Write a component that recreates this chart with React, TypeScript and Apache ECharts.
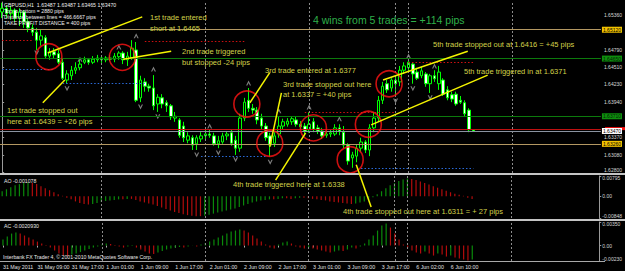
import React, { useEffect, useRef } from 'react';
import * as echarts from 'echarts';

// ---------- data ----------
const tickLabels = ['31 May 2011', '31 May 09:00', '31 May 17:00', '1 Jun 01:00', '1 Jun 09:00', '1 Jun 17:00', '2 Jun 01:00', '2 Jun 09:00', '2 Jun 17:00', '3 Jun 01:00', '3 Jun 09:00', '3 Jun 17:00', '6 Jun 02:00', '6 Jun 10:00'];
const barSlots = 139; // H1 bar slots visible in the window (incl. empty space on the right)

// [open, close, low, high]
const ohlc: number[][] = [
  [1.6541, 1.6547, 1.6531, 1.6556], [1.6547, 1.6538, 1.6531, 1.6552], [1.6538, 1.6544, 1.6528, 1.6551], [1.6544, 1.6531, 1.6525, 1.6547],
  [1.6531, 1.6541, 1.6518, 1.6547], [1.6541, 1.6525, 1.6515, 1.6544], [1.6525, 1.6515, 1.6508, 1.6531], [1.6515, 1.6508, 1.6502, 1.6521],
  [1.6508, 1.6495, 1.6479, 1.6515], [1.6495, 1.6502, 1.6486, 1.6512], [1.6499, 1.6469, 1.6466, 1.6503], [1.6469, 1.6476, 1.6463, 1.6482],
  [1.6476, 1.6471, 1.6466, 1.6482], [1.6473, 1.6459, 1.6456, 1.6479], [1.6459, 1.6433, 1.6430, 1.6466], [1.6430, 1.6440, 1.6424, 1.6446],
  [1.6437, 1.6446, 1.6430, 1.6453], [1.6446, 1.6450, 1.6440, 1.6459], [1.6450, 1.6456, 1.6446, 1.6463], [1.6459, 1.6463, 1.6456, 1.6468],
  [1.6463, 1.6459, 1.6455, 1.6466], [1.6459, 1.6464, 1.6456, 1.6469], [1.6463, 1.6466, 1.6459, 1.6471], [1.6466, 1.6463, 1.6458, 1.6469],
  [1.6463, 1.6466, 1.6459, 1.6469], [1.6466, 1.6464, 1.6461, 1.6471], [1.6464, 1.6469, 1.6459, 1.6474], [1.6468, 1.6474, 1.6463, 1.6477],
  [1.6474, 1.6463, 1.6456, 1.6477], [1.6463, 1.6469, 1.6453, 1.6476], [1.6466, 1.6482, 1.6463, 1.6495], [1.6479, 1.6397, 1.6394, 1.6492],
  [1.6401, 1.6430, 1.6394, 1.6437], [1.6427, 1.6420, 1.6411, 1.6433], [1.6420, 1.6417, 1.6411, 1.6424], [1.6417, 1.6388, 1.6381, 1.6438],
  [1.6391, 1.6402, 1.6378, 1.6407], [1.6401, 1.6391, 1.6384, 1.6407], [1.6393, 1.6388, 1.6378, 1.6397], [1.6388, 1.6370, 1.6365, 1.6391],
  [1.6368, 1.6371, 1.6362, 1.6378], [1.6365, 1.6340, 1.6336, 1.6368], [1.6355, 1.6336, 1.6329, 1.6362], [1.6332, 1.6339, 1.6327, 1.6345],
  [1.6336, 1.6324, 1.6316, 1.6340], [1.6326, 1.6336, 1.6316, 1.6340], [1.6334, 1.6339, 1.6329, 1.6345], [1.6339, 1.6342, 1.6332, 1.6349],
  [1.6342, 1.6340, 1.6336, 1.6349], [1.6339, 1.6326, 1.6323, 1.6344], [1.6326, 1.6331, 1.6319, 1.6339], [1.6329, 1.6339, 1.6326, 1.6344],
  [1.6339, 1.6342, 1.6332, 1.6347], [1.6344, 1.6327, 1.6323, 1.6349], [1.6332, 1.6319, 1.6308, 1.6339], [1.6319, 1.6368, 1.6313, 1.6375],
  [1.6368, 1.6394, 1.6363, 1.6401], [1.6397, 1.6384, 1.6378, 1.6417], [1.6384, 1.6381, 1.6375, 1.6391], [1.6381, 1.6365, 1.6358, 1.6386],
  [1.6368, 1.6355, 1.6349, 1.6375], [1.6355, 1.6336, 1.6331, 1.6360], [1.6339, 1.6324, 1.6305, 1.6344], [1.6327, 1.6339, 1.6321, 1.6345],
  [1.6342, 1.6355, 1.6336, 1.6371], [1.6355, 1.6362, 1.6349, 1.6367], [1.6358, 1.6363, 1.6354, 1.6368], [1.6362, 1.6367, 1.6357, 1.6371],
  [1.6365, 1.6358, 1.6354, 1.6370], [1.6358, 1.6354, 1.6349, 1.6363], [1.6355, 1.6347, 1.6342, 1.6360], [1.6349, 1.6358, 1.6344, 1.6378],
  [1.6362, 1.6350, 1.6345, 1.6368], [1.6352, 1.6347, 1.6342, 1.6357], [1.6347, 1.6339, 1.6334, 1.6352], [1.6340, 1.6342, 1.6336, 1.6347],
  [1.6342, 1.6344, 1.6337, 1.6350], [1.6342, 1.6352, 1.6339, 1.6358], [1.6352, 1.6347, 1.6340, 1.6358], [1.6345, 1.6324, 1.6319, 1.6355],
  [1.6324, 1.6298, 1.6292, 1.6327], [1.6303, 1.6308, 1.6287, 1.6313], [1.6306, 1.6319, 1.6296, 1.6324], [1.6319, 1.6329, 1.6313, 1.6336],
  [1.6329, 1.6316, 1.6311, 1.6332], [1.6316, 1.6352, 1.6306, 1.6358], [1.6352, 1.6368, 1.6345, 1.6378], [1.6368, 1.6397, 1.6362, 1.6404],
  [1.6397, 1.6420, 1.6391, 1.6427], [1.6424, 1.6414, 1.6409, 1.6430], [1.6417, 1.6430, 1.6411, 1.6433], [1.6430, 1.6424, 1.6404, 1.6437],
  [1.6427, 1.6446, 1.6420, 1.6453], [1.6446, 1.6453, 1.6440, 1.6459], [1.6450, 1.6459, 1.6443, 1.6463], [1.6456, 1.6440, 1.6424, 1.6459],
  [1.6443, 1.6433, 1.6430, 1.6450], [1.6437, 1.6445, 1.6433, 1.6451], [1.6440, 1.6424, 1.6419, 1.6443], [1.6424, 1.6437, 1.6409, 1.6440],
  [1.6437, 1.6432, 1.6427, 1.6446], [1.6424, 1.6443, 1.6414, 1.6453], [1.6430, 1.6407, 1.6404, 1.6433], [1.6414, 1.6401, 1.6397, 1.6420],
  [1.6406, 1.6399, 1.6394, 1.6411], [1.6407, 1.6391, 1.6388, 1.6411], [1.6397, 1.6394, 1.6391, 1.6404], [1.6393, 1.6375, 1.6371, 1.6397],
  [1.6381, 1.6349, 1.6345, 1.6384], [1.63487, 1.63470, 1.63465, 1.63487],
];

const aoValues = [
  0.00199, 0.00279, 0.00358, 0.00438, 0.00478, 0.00517, 0.00537, 0.00517, 0.00478, 0.00398,
  0.00318, 0.00239, 0.00159, 0.00080, 0.00020, -0.00060, -0.00119, -0.00199, -0.00259, -0.00299,
  -0.00318, -0.00299, -0.00259, -0.00219, -0.00179, -0.00159, -0.00139, -0.00119, -0.00119, -0.00100,
  -0.00100, -0.00139, -0.00199, -0.00239, -0.00279, -0.00318, -0.00378, -0.00438, -0.00498, -0.00557,
  -0.00617, -0.00657, -0.00697, -0.00736, -0.00756, -0.00776, -0.00776, -0.00756, -0.00716, -0.00677,
  -0.00637, -0.00597, -0.00557, -0.00517, -0.00478, -0.00418, -0.00358, -0.00299, -0.00239, -0.00199,
  -0.00159, -0.00139, -0.00119, -0.00119, -0.00100, -0.00080, -0.00080, -0.00100, -0.00080, -0.00060,
  -0.00060, -0.00080, -0.00100, -0.00119, -0.00139, -0.00159, -0.00199, -0.00219, -0.00239, -0.00259,
  -0.00279, -0.00299, -0.00279, -0.00239, -0.00199, -0.00139, -0.00040, 0.00080, 0.00199, 0.00318,
  0.00438, 0.00517, 0.00597, 0.00657, 0.00697, 0.00677, 0.00637, 0.00577, 0.00517, 0.00458,
  0.00398, 0.00338, 0.00279, 0.00219, 0.00159, 0.00100, 0.00060, 0.00020, -0.00060, -0.00108,
];

const acValues = [
  0.00089, 0.00134, 0.00178, 0.00193, 0.00178, 0.00149, 0.00119, 0.00089, 0.00059, 0.00030,
  0.00007, -0.00030, -0.00074, -0.00119, -0.00149, -0.00156, -0.00134, -0.00119, -0.00097, -0.00074,
  -0.00052, -0.00030, -0.00015, 0.00015, 0.00030, 0.00022, 0.00007, -0.00015, -0.00030, -0.00015,
  0.00007, -0.00030, -0.00059, -0.00089, -0.00119, -0.00126, -0.00104, -0.00082, -0.00059, -0.00045,
  -0.00030, -0.00022, -0.00030, -0.00015, 0.00002, -0.00015, 0.00015, 0.00037, 0.00059, 0.00089,
  0.00119, 0.00149, 0.00178, 0.00208, 0.00223, 0.00238, 0.00223, 0.00193, 0.00149, 0.00104,
  0.00059, 0.00015, -0.00030, -0.00045, 0.00015, 0.00045, 0.00059, 0.00030, -0.00015, -0.00030,
  -0.00045, -0.00030, -0.00045, -0.00059, -0.00074, -0.00089, -0.00104, -0.00089, -0.00074, -0.00082,
  -0.00059, -0.00030, -0.00045, -0.00015, 0.00030, 0.00089, 0.00149, 0.00223, 0.00297, 0.00327,
  0.00268, 0.00178, 0.00089, 0.00015, -0.00030, -0.00074, -0.00104, -0.00119, -0.00089, -0.00119,
  -0.00149, -0.00119, -0.00134, -0.00164, -0.00149, -0.00178, -0.00193, -0.00208, -0.00223, -0.00209,
];

const priceTicks = [1.6536, 1.6479, 1.6451, 1.6423, 1.6394, 1.6337, 1.6308, 1.628];
const aoTicks = [0.00795, 0, -0.00848];
const acTicks = [0.0035, 0, -0.0023];

// horizontal price levels: [price, label, kind]
const priceLevels: [number, string, string][] = [
  [1.6512, '1.65120', 'tan'],
  [1.6465, '1.64650', 'green'],
  [1.6371, '1.63710', 'green'],
  [1.6347, '1.63470', 'bid'],
  [1.6326, '1.63260', 'tan'],
];
const askPrice = 1.635;
const separatorBars = [23, 47, 71, 91, 94, 118];
// fractal arrows: [bar, price]
const fractalUp = [[18, 1.6464], [27, 1.6484], [31, 1.6502], [35, 1.6448], [48, 1.6355], [57, 1.6425], [64, 1.638], [71, 1.6386], [78, 1.6367], [94, 1.6469], [100, 1.6453]];
const fractalDown = [[8, 1.6474], [15, 1.6416], [32, 1.6386], [36, 1.637], [45, 1.6308], [50, 1.6311], [54, 1.63], [62, 1.6296], [91, 1.6396], [95, 1.6416], [99, 1.6401]];
// fractal level segments: [fromBar, toBar, price]
const resistanceSegments = [[0, 7, 1.6495], [33, 56, 1.6493], [70, 91, 1.6378], [94, 109, 1.6459]];
const supportSegments = [[0, 12, 1.6448], [14, 33, 1.6424], [46, 61, 1.6305], [83, 109, 1.6287]];
// trade circles: [bar position, price]
const tradeCircles = [[10.8, 1.6468], [27.8, 1.6467], [56.6, 1.6391], [61.9, 1.6327], [72.0, 1.6352], [80.5, 1.63], [84.7, 1.6358], [89.5, 1.6424]];
// pointer lines: [[bar, price], [bar, price]]
const pointerLines = [
  [[10.55, 1.6474], [32.4, 1.6533]],
  [[28.0, 1.6464], [39.1, 1.6477]],
  [[9.4, 1.6393], [14.5, 1.643]],
  [[57.3, 1.6393], [61.9, 1.6442]],
  [[64.6, 1.6409], [61.9, 1.6321]],
  [[63.25, 1.6267], [70.2, 1.6344]],
  [[81.9, 1.6292], [85.35, 1.6223]],
  [[85.35, 1.6357], [112.3, 1.6438]],
  [[88.1, 1.643], [107.7, 1.6477]],
];

// ---------- styling / layout ----------
const FONT = '"Liberation Sans", Arial, sans-serif';
const NOTE = '#d2d24a';
const AXIS_TXT = '#d8d8d8';
const levelStyle: Record<string, { line: string; bg: string; fg: string }> = {
  tan: { line: '#b39862', bg: '#f2c200', fg: '#000' },
  green: { line: '#0c7a0c', bg: '#0d8f0d', fg: '#062006' },
  bid: { line: '#8a93a0', bg: '#ffffff', fg: '#000' },
};

const notes = [
  { t: '1st trade entered', x: 150, y: 17 },
  { t: 'short at 1.6465', x: 150, y: 28 },
  { t: '2nd trade triggered', x: 182, y: 51 },
  { t: 'but stopped -24 pips', x: 182, y: 62 },
  { t: '3rd trade entered at 1.6377', x: 265, y: 70 },
  { t: '3rd trade stopped out here', x: 283, y: 84 },
  { t: 'at 1.6337 = +40 pips', x: 283, y: 94 },
  { t: '5th trade stopped out at 1.6416 = +45 pips', x: 433, y: 44 },
  { t: '5th trade triggered in at 1.6371', x: 464, y: 71 },
  { t: '1st trade stopped out', x: 7, y: 110 },
  { t: 'here at 1.6439 = +26 pips', x: 7, y: 121 },
  { t: '4th trade triggered here at 1.6338', x: 233, y: 184 },
  { t: '4th trade stopped out here at 1.6311 = + 27 pips', x: 343, y: 211 },
];
const infoLines = [
  'GBPUSD,H1  1.63487 1.63487 1.63465 1.63470',
  'Top to bottom = 2880 pips',
  'Distance between lines = 466.6667 pips',
  'TAKE PROFIT DISTANCE = 400 pips',
];

const cats = Array.from({ length: barSlots }, (_, i) => String(i));
const histColor = (vals: number[]) => (p: any) =>
  p.dataIndex === 0 || vals[p.dataIndex] > vals[p.dataIndex - 1] ? '#0a8a0a' : '#b30c0c';

function sepLines() {
  return {
    silent: true,
    symbol: ['none', 'none'],
    label: { show: false },
    lineStyle: { color: '#8c8c8c', type: [2, 2], width: 1 },
    data: separatorBars.map((b) => ({ xAxis: String(b) })),
  };
}

function buildOption(): any {
  const levelData: any[] = priceLevels.map(([p, lbl, kind]) => ({
    yAxis: p,
    lineStyle: { color: levelStyle[kind].line, type: 'solid', width: 1 },
    label: {
      show: true, position: 'end', distance: 1, formatter: lbl, fontSize: 5, fontFamily: FONT,
      color: levelStyle[kind].fg, backgroundColor: levelStyle[kind].bg, padding: [1, 1, 0, 1],
    },
  }));
  levelData.unshift({ yAxis: askPrice, lineStyle: { color: '#c01010', type: 'solid', width: 1 }, label: { show: false } });
  const segData = (segs: number[][], color: string) =>
    segs.map(([a, b, p]) => [
      { coord: [String(a), p], lineStyle: { color, type: [1.5, 2], width: 1.2 } },
      { coord: [String(b), p] },
    ]);
  const sepData = separatorBars.map((b) => ({ xAxis: String(b), lineStyle: { color: '#8c8c8c', type: [2, 2], width: 1 } }));

  const hiddenCat = (grid: number) => ({
    type: 'category', gridIndex: grid, data: cats, boundaryGap: true,
    axisLine: { show: false }, axisTick: { show: false }, axisLabel: { show: false }, splitLine: { show: false },
  });
  const txt = { fontSize: 5, color: AXIS_TXT, fontFamily: FONT };
  const rightAxis = (grid: number, min: number, max: number, ticks: number[], fmt: (v: number) => string, shiftTop: boolean) => ({
    type: 'value', gridIndex: grid, position: 'right', min, max, scale: true,
    axisLine: { show: true, lineStyle: { color: '#9a9a9a', width: 1 } },
    axisTick: { show: true, length: 2, customValues: ticks, lineStyle: { color: '#9a9a9a' } },
    axisLabel: {
      customValues: ticks, margin: 3, ...txt,
      formatter: (v: number) => {
        const s = fmt(v);
        if (v === ticks[ticks.length - 1]) return `{b|${s}}`;
        if (shiftTop && v === ticks[0]) return `{t|${s}}`;
        return s;
      },
      rich: { t: { ...txt, padding: [4, 0, 0, 0] }, b: { ...txt, padding: [0, 0, 5, 0] } },
    },
    splitLine: { show: false },
  });
  const labelShown = (idx: number) => idx % 8 === 0 && idx / 8 < tickLabels.length;
  const small = (v: number) => (v === 0 ? '0.00' : v.toFixed(5));

  return {
    animation: false,
    backgroundColor: '#000000',
    textStyle: { fontFamily: FONT },
    grid: [
      { left: 0, top: 2, width: 604, height: 171 },
      { left: 0, top: 176, width: 604, height: 42 },
      { left: 0, top: 222, width: 604, height: 39 },
    ],
    xAxis: [
      hiddenCat(0),
      { type: 'value', gridIndex: 0, min: -0.5, max: barSlots - 0.5, show: false },
      hiddenCat(1),
      {
        type: 'category', gridIndex: 2, data: cats, boundaryGap: true,
        axisLine: { show: false },
        axisTick: { show: true, interval: (i: number) => labelShown(i), alignWithLabel: true, length: 2, lineStyle: { color: '#b0b0b0' } },
        axisLabel: {
          interval: (i: number) => labelShown(i), formatter: (_v: string, i: number) => tickLabels[i / 8] ?? '',
          align: 'left', fontSize: 5.3, color: '#e0e0e0', margin: 3, fontFamily: FONT,
        },
        splitLine: { show: false },
      },
    ],
    yAxis: [
      rightAxis(0, 1.62785, 1.65572, priceTicks, (v) => v.toFixed(5), false),
      rightAxis(1, -0.00848, 0.00795, aoTicks, small, true),
      rightAxis(2, -0.0023, 0.0035, acTicks, small, true),
    ],
    series: [
      {
        name: 'GBPUSD,H1', type: 'candlestick', xAxisIndex: 0, yAxisIndex: 0, data: ohlc, barWidth: 3,
        itemStyle: { color: '#000000', color0: '#ffffff', borderColor: '#00ff00', borderColor0: '#00ff00', borderWidth: 1 },
        markLine: {
          silent: true, symbol: ['none', 'none'], label: { show: false }, precision: 5,
          data: [...segData(resistanceSegments, '#d01010'), ...segData(supportSegments, '#2a6ad8'), ...sepData, ...levelData],
        },
        z: 3,
      },
      {
        name: 'fractal up', type: 'scatter', xAxisIndex: 0, yAxisIndex: 0,
        data: fractalUp.map(([b, p]) => [String(b), p]),
        symbol: 'path://M5,0 L10,9 L7.5,9 L5,4.5 L2.5,9 L0,9 Z', symbolSize: [5, 5],
        itemStyle: { color: '#9c9c9c' }, z: 4,
      },
      {
        name: 'fractal down', type: 'scatter', xAxisIndex: 0, yAxisIndex: 0,
        data: fractalDown.map(([b, p]) => [String(b), p]),
        symbol: 'path://M5,0 L10,9 L7.5,9 L5,4.5 L2.5,9 L0,9 Z', symbolSize: [5, 5], symbolRotate: 180,
        itemStyle: { color: '#9c9c9c' }, z: 4,
      },
      {
        name: 'trades', type: 'scatter', xAxisIndex: 1, yAxisIndex: 0, data: tradeCircles,
        symbol: 'circle', symbolSize: 26,
        itemStyle: { color: 'rgba(0,0,0,0)', borderColor: '#ff1414', borderWidth: 1.6 }, z: 10,
      },
      {
        name: 'AO', type: 'bar', xAxisIndex: 2, yAxisIndex: 1, data: aoValues, barWidth: 1.2,
        itemStyle: { color: histColor(aoValues) }, markLine: sepLines(),
      },
      {
        name: 'AC', type: 'bar', xAxisIndex: 3, yAxisIndex: 2, data: acValues, barWidth: 1.2,
        itemStyle: { color: histColor(acValues) }, markLine: sepLines(),
      },
    ],
  };
}

function staticGraphics(): any[] {
  const els: any[] = [];
  els.push({ type: 'rect', shape: { x: 0, y: 173, width: 625, height: 2 }, style: { fill: '#c4c4c4' }, z: 90 });
  els.push({ type: 'rect', shape: { x: 0, y: 219, width: 625, height: 2 }, style: { fill: '#c4c4c4' }, z: 90 });
  els.push({ type: 'rect', shape: { x: 0, y: 261, width: 605, height: 1 }, style: { fill: '#a8a8a8' }, z: 90 });
  infoLines.forEach((t, i) =>
    els.push({ type: 'text', x: 4, y: 5 + i * 6, z: 100, style: { text: t, fill: '#f0f0f0', fontSize: 5.2, fontFamily: FONT, verticalAlign: 'middle' } }),
  );
  notes.forEach((n) =>
    els.push({ type: 'text', x: n.x, y: n.y, z: 100, style: { text: n.t, fill: NOTE, fontSize: 7.5, fontFamily: FONT, verticalAlign: 'middle' } }),
  );
  els.push({ type: 'text', x: 313, y: 20, z: 100, style: { text: '4 wins from 5 trades = +114 pips', fill: '#2fb04a', fontSize: 10.5, fontFamily: FONT, verticalAlign: 'middle' } });
  els.push({ type: 'text', x: 4, y: 181, z: 100, style: { text: 'AO -0.001078', fill: '#e8e8e8', fontSize: 5.2, fontFamily: FONT, verticalAlign: 'middle' } });
  els.push({ type: 'text', x: 4, y: 226, z: 100, style: { text: 'AC -0.0020930', fill: '#e8e8e8', fontSize: 5.2, fontFamily: FONT, verticalAlign: 'middle' } });
  els.push({ type: 'text', x: 3, y: 257, z: 100, style: { text: 'Interbank FX Trader 4, © 2001-2010 MetaQuotes Software Corp.', fill: '#e8e8e8', fontSize: 5.2, fontFamily: FONT, verticalAlign: 'middle' } });
  return els;
}

export default function App() {
  const ref = useRef<HTMLDivElement>(null);
  useEffect(() => {
    document.body.style.margin = '0';
    document.body.style.background = '#000';
    const chart = echarts.init(ref.current!, null, { renderer: 'svg' });
    chart.setOption(buildOption());
    const toPx = (p: number[]) => chart.convertToPixel({ xAxisIndex: 1, yAxisIndex: 0 } as any, p) as unknown as number[];
    const lineEls: any[] = pointerLines.map(([a, b]) => {
      const A = toPx(a);
      const B = toPx(b);
      return { type: 'line', z: 95, shape: { x1: A[0], y1: A[1], x2: B[0], y2: B[1] }, style: { stroke: '#f4f400', lineWidth: 1.5 } };
    });
    // ask price marker (partly hidden behind the bid label, as in the terminal)
    const askPx = toPx([0, askPrice]);
    lineEls.push({ type: 'rect', z: 1, shape: { x: 605, y: askPx[1] - 2, width: 20, height: 3 }, style: { fill: '#ff1010' } });
    chart.setOption({ graphic: { elements: [...staticGraphics(), ...lineEls] } });
    return () => chart.dispose();
  }, []);
  return <div ref={ref} style={{ position: 'fixed', left: 0, top: 0, width: 625, height: 271, background: '#000' }} />;
}
